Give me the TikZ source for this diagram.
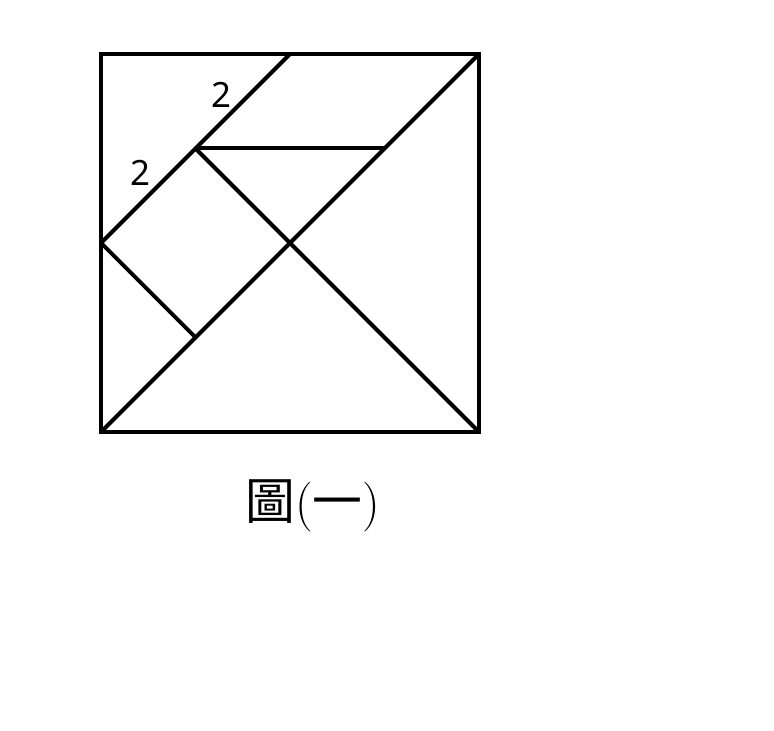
\documentclass[tikz,border=0pt]{standalone}
\usepackage{fontspec}
\setsansfont{Noto Sans}
\newfontfamily\cjk{Noto Sans CJK TC}
\usetikzlibrary{calc, positioning}
\tikzset
{%
piece/.style={line width=1.2pt, line join=miter},
side/.style={font=\sffamily\fontsize{10.5}{12}\selectfont, inner sep=0pt},
caption/.style={font=\fontsize{15}{17}\selectfont, inner sep=0pt}
}
\begin{document}
\begin{tikzpicture}
	\useasboundingbox (-1.069, -3.164) rectangle (7.122, 4.571);

		% corners of the square
		\coordinate (A) at (0, 0);
		\coordinate (B) at (4, 0);
		\coordinate (C) at (4, 4);
		\coordinate (D) at (0, 4);

		% inner points
		\coordinate (O) at (2, 2);
		\coordinate (E) at (0, 2);
		\coordinate (F) at (2, 4);
		\coordinate (G) at (1, 3);
		\coordinate (H) at (3, 3);
		\coordinate (K) at (1, 1);

		\draw[piece] (A) -- (B) -- (C) -- (D) -- cycle;
		\draw[piece] (A) -- (C);
		\draw[piece] (E) -- (F);
		\draw[piece] (G) -- (H);
		\draw[piece] (G) -- (B);
		\draw[piece] (E) -- (K);

		% labels
		\node[side] (l1) at (1.28, 3.57) {2};
		\node[side] (l2) at (0.42, 2.74) {2};
		\node[caption] (cap) at (2.24, -0.78) {{\cjk 圖}({\cjk 一})};
\end{tikzpicture}
\end{document}
